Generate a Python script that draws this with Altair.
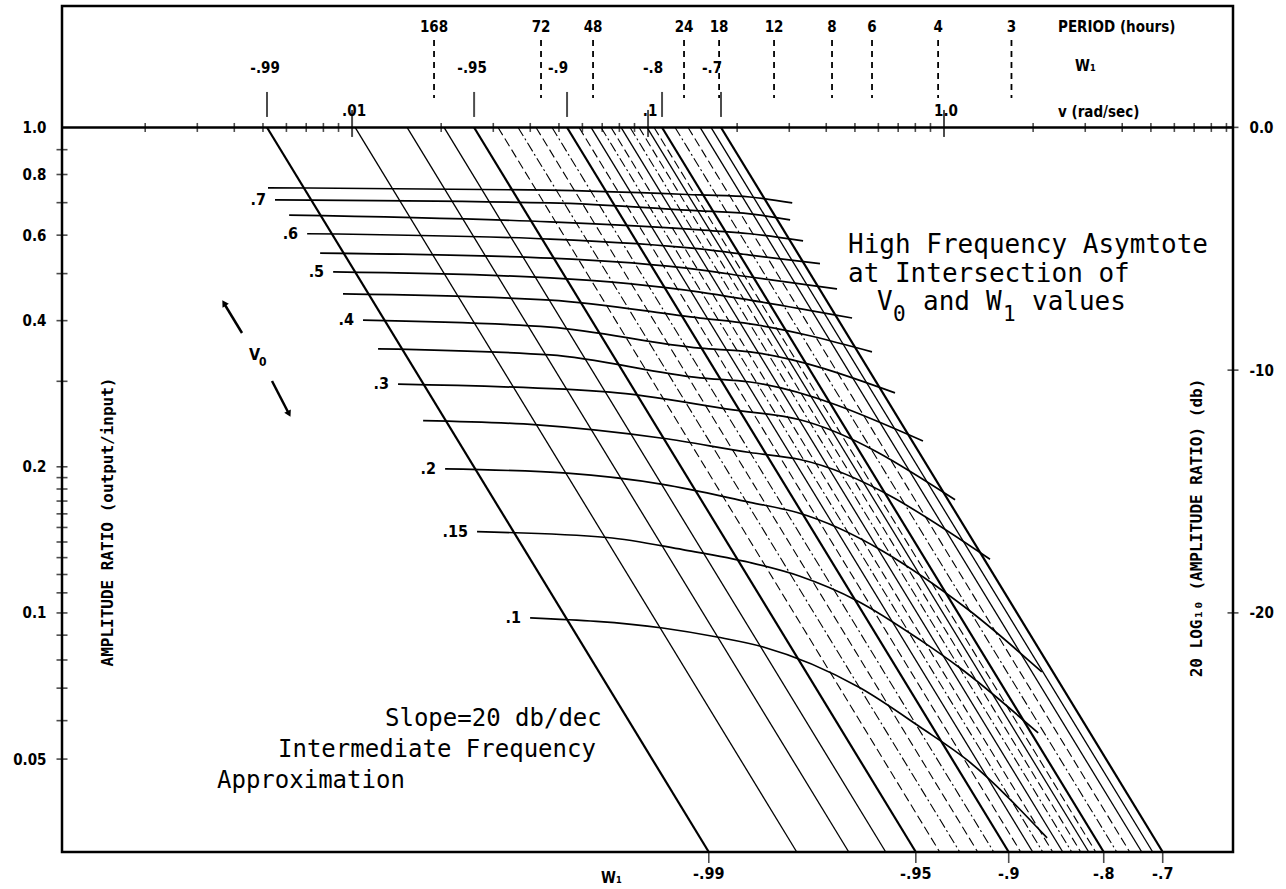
import altair as alt
import pandas as pd

# ---------------- extents of the chart (data units) ----------------
V_MIN, V_MAX = 0.001047, 9.47        # v (rad/sec), log scale
A_MIN, A_MAX = 0.03218, 1.779        # amplitude ratio, log scale
DB_MIN, DB_MAX = -29.85, 5.0         # 20 log10(amplitude ratio)
W, H = 1171, 846
PL, PT = 62, 6

# ---------------- W1 lines (slope 20 db/dec) ----------------
w1_values = [-0.99, -0.98, -0.97, -0.96, -0.95, -0.94, -0.93, -0.92, -0.91, -0.90,
             -0.89, -0.88, -0.87, -0.86, -0.85, -0.84, -0.83, -0.82, -0.81, -0.80,
             -0.78, -0.76, -0.74, -0.72, -0.70]
w1_v_top = [0.00516, 0.01024, 0.01534, 0.02045, 0.02584, 0.03113, 0.03638, 0.04183, 0.04738, 0.05325,
            0.05846, 0.06418, 0.06938, 0.07499, 0.08106, 0.08694, 0.09324, 0.09922, 0.1048, 0.1115,
            0.1234, 0.1365, 0.1499, 0.1632, 0.1764]
w1_v_bottom = [0.1604, 0.318, 0.4766, 0.6354, 0.803, 0.967, 1.130, 1.300, 1.472, 1.654,
               1.816, 1.994, 2.156, 2.330, 2.519, 2.701, 2.897, 3.083, 3.256, 3.464,
               3.834, 4.241, 4.657, 5.071, 5.481]
w1_a_top = 1.0
w1_a_bottom = 0.03218

w1_bold = [-0.99, -0.95, -0.90, -0.80, -0.70]
w1_dashed = [-0.94, -0.92, -0.89, -0.86, -0.83, -0.81, -0.76]
w1_dashdot = [-0.93, -0.91, -0.87, -0.84, -0.78]

# ---------------- V0 curves ----------------
v0_values = [0.75, 0.70, 0.65, 0.60, 0.55, 0.50, 0.45, 0.40, 0.35, 0.30, 0.25, 0.20, 0.15, 0.10]
v0_curve_v = [
    [0.00520, 0.0467, 0.150, 0.221, 0.307],
    [0.00549, 0.0467, 0.150, 0.221, 0.302],
    [0.00613, 0.0467, 0.150, 0.221, 0.334],
    [0.00705, 0.0467, 0.150, 0.221, 0.381],
    [0.00780, 0.0467, 0.150, 0.221, 0.435],
    [0.00863, 0.0467, 0.150, 0.221, 0.489],
    [0.00932, 0.0467, 0.150, 0.221, 0.571],
    [0.01089, 0.0467, 0.150, 0.221, 0.683],
    [0.01224, 0.0467, 0.150, 0.221, 0.849],
    [0.01430, 0.0744, 0.194, 0.326, 1.09],
    [0.01738, 0.0422, 0.112, 0.221, 0.326, 1.43],
    [0.02062, 0.0533, 0.112, 0.221, 0.319, 1.196, 2.14],
    [0.02644, 0.0727, 0.131, 0.221, 0.326, 0.508, 0.830, 1.133, 2.08],
    [0.03995, 0.112, 0.171, 0.245, 0.520, 0.830, 1.196, 2.23],
]
v0_curve_a = [
    [0.751, 0.743, 0.726, 0.719, 0.699],
    [0.709, 0.699, 0.673, 0.664, 0.645],
    [0.660, 0.639, 0.615, 0.604, 0.584],
    [0.604, 0.589, 0.562, 0.546, 0.524],
    [0.551, 0.538, 0.509, 0.492, 0.465],
    [0.504, 0.490, 0.458, 0.441, 0.405],
    [0.454, 0.441, 0.405, 0.394, 0.345],
    [0.401, 0.388, 0.351, 0.345, 0.284],
    [0.350, 0.340, 0.305, 0.299, 0.226],
    [0.296, 0.285, 0.262, 0.250, 0.171],
    [0.249, 0.244, 0.229, 0.214, 0.207, 0.129],
    [0.198, 0.194, 0.184, 0.169, 0.161, 0.102, 0.0756],
    [0.147, 0.143, 0.135, 0.127, 0.119, 0.106, 0.088, 0.077, 0.0566],
    [0.0977, 0.0931, 0.0892, 0.0851, 0.0701, 0.0582, 0.0498, 0.0344],
]
v0_label_values = [0.70, 0.60, 0.50, 0.40, 0.30, 0.20, 0.15, 0.10]
v0_label_texts = [".7", ".6", ".5", ".4", ".3", ".2", ".15", ".1"]

# ---------------- top scale ----------------
v_minor_ticks = [0.002, 0.003, 0.004, 0.005, 0.006, 0.007, 0.008, 0.009,
                 0.02, 0.03, 0.04, 0.05, 0.06, 0.07, 0.08, 0.09,
                 0.2, 0.3, 0.4, 0.5, 0.6, 0.7, 0.8, 0.9,
                 2, 3, 4, 5, 6, 7, 8, 9]
v_major_ticks = [0.01, 0.1, 1.0]
v_major_texts = [".01", ".1", "1.0"]
period_texts = ["168", "72", "48", "24", "18", "12", "8", "6", "4", "3"]
period_v = [0.01892, 0.04349, 0.06519, 0.1323, 0.1738, 0.2665, 0.4184, 0.5711, 0.955, 1.69]
w1_mark_texts = ["-.99", "-.95", "-.9", "-.8", "-.7"]
w1_mark_v_top = [0.00516, 0.02584, 0.05325, 0.1115, 0.1764]
w1_mark_v_bottom = [0.1604, 0.803, 1.654, 3.464, 5.481]

# ---------------- side scales ----------------
amp_label_values = [1.0, 0.8, 0.6, 0.4, 0.2, 0.1, 0.05]
amp_tick_values = [0.9, 0.8, 0.7, 0.6, 0.5, 0.4, 0.3, 0.2, 0.19, 0.18, 0.17, 0.16, 0.15,
                   0.14, 0.13, 0.12, 0.11, 0.1, 0.09, 0.08, 0.07, 0.06, 0.05]
db_values = [0, -10, -20]

# ---------------- styling ----------------
NUMF = "'DejaVu Sans Condensed', 'DejaVu Sans', sans-serif"
MONO = "'DejaVu Sans Mono', monospace"

xs = alt.Scale(type="log", domain=[V_MIN, V_MAX], nice=False)
ys = alt.Scale(type="log", domain=[A_MIN, A_MAX], nice=False)

left_axis = alt.Axis(values=amp_label_values, ticks=False, domain=False, grid=False,
                     labelExpr="datum.value >= 0.1 ? format(datum.value, '.1f') : format(datum.value, '.2f')",
                     labelFont=NUMF, labelFontSize=15, labelFontWeight="bold", labelColor="black",
                     labelPadding=16, tickSize=0, title=None)


def X(f="v"):
    return alt.X(f"{f}:Q", scale=xs, axis=None)


def Y(f="a"):
    return alt.Y(f"{f}:Q", scale=ys, axis=left_axis)


def px(x):
    return alt.value(x - PL)


def py(y):
    return alt.value(y - PT)


def text_at(t, x, y, size=14, font=NUMF, weight="bold", align="left", angle=0):
    return alt.Chart(pd.DataFrame({"t": [t]})).mark_text(
        align=align, baseline="middle", font=font, fontSize=size, fontWeight=weight,
        angle=angle, color="black").encode(x=px(x), y=py(y), text="t:N")


# ---------------- data tables ----------------
w1_rows = []
for w, vt, vb in zip(w1_values, w1_v_top, w1_v_bottom):
    w1_rows.append({"w1": w, "v": vt, "a": w1_a_top, "k": 0})
    w1_rows.append({"w1": w, "v": vb, "a": w1_a_bottom, "k": 1})
w1_df = pd.DataFrame(w1_rows)


def w1_subset(vals):
    return w1_df[w1_df["w1"].isin(vals)]


thin_solid = [w for w in w1_values if w not in w1_bold + w1_dashed + w1_dashdot]

curve_rows = []
for v0, vs, as_ in zip(v0_values, v0_curve_v, v0_curve_a):
    for k, (v, a) in enumerate(zip(vs, as_)):
        curve_rows.append({"v0": v0, "v": v, "a": a, "k": k})
curve_df = pd.DataFrame(curve_rows)

lab_rows = []
for v0, t in zip(v0_label_values, v0_label_texts):
    i = v0_values.index(v0)
    lab_rows.append({"v": v0_curve_v[i][0], "a": v0_curve_a[i][0], "t": t})
v0_lab_df = pd.DataFrame(lab_rows)

minor_df = pd.DataFrame({"v": v_minor_ticks, "a": [1.0] * len(v_minor_ticks)})
major_df = pd.DataFrame({"v": v_major_ticks, "a": [1.0] * len(v_major_ticks), "t": v_major_texts})
period_df = pd.DataFrame({"v": period_v, "t": period_texts})
w1m_df = pd.DataFrame({"vt": w1_mark_v_top, "vb": w1_mark_v_bottom, "t": w1_mark_texts,
                       "a": [1.0] * 5, "ab": [A_MIN] * 5})
amp_df = pd.DataFrame({"a": amp_tick_values})
one_df = pd.DataFrame({"a": [1.0]})


def line_layer(vals, width, dash=None):
    kw = dict(color="black", strokeWidth=width)
    if dash:
        kw["strokeDash"] = dash
    return alt.Chart(w1_subset(vals)).mark_line(**kw).encode(
        x=X(), y=Y(), detail="w1:N", order="k:Q")


def rule(x1, y1, x2, y2, w=2.5):
    return alt.Chart(one_df).mark_rule(color="black", strokeWidth=w).encode(
        x=px(x1), y=py(y1), x2=px(x2), y2=py(y2))


def head(x, y, ang):
    return alt.Chart(one_df).mark_point(shape="triangle-up", filled=True, size=55, angle=ang,
                                        color="black", opacity=1).encode(x=px(x), y=py(y))


def note(t, x, y, size=24):
    return text_at(t, x, y, size=size, font=MONO, weight="normal")


layers = [
    # the 1.0 reference line with its v scale
    alt.Chart(one_df).mark_rule(color="black", strokeWidth=2.5).encode(y=Y()),
    alt.Chart(minor_df).mark_tick(orient="vertical", size=9, thickness=1.6, color="black").encode(x=X(), y=Y()),
    alt.Chart(major_df).mark_tick(orient="vertical", size=27, thickness=2, color="black", yOffset=-4).encode(x=X(), y=Y()),
    alt.Chart(major_df).mark_text(font=NUMF, fontSize=15, fontWeight="bold", color="black", dx=2, baseline="middle").encode(
        x=X(), y=py(111), text="t:N"),
    alt.Chart(w1m_df).mark_tick(orient="vertical", size=25, thickness=2, color="black", yOffset=-23).encode(x=X("vt"), y=Y()),
    alt.Chart(w1m_df[w1m_df["t"].isin(["-.99", "-.95"])]).mark_text(
        font=NUMF, fontSize=15, fontWeight="bold", color="black", dx=-2, baseline="middle").encode(
        x=X("vt"), y=py(68), text="t:N"),
    alt.Chart(w1m_df[w1m_df["t"].isin(["-.9", "-.8", "-.7"])]).mark_text(
        font=NUMF, fontSize=15, fontWeight="bold", color="black", dx=-9, baseline="middle").encode(
        x=X("vt"), y=py(68), text="t:N"),
    alt.Chart(period_df).mark_rule(color="black", strokeWidth=1.8, strokeDash=[6, 5]).encode(
        x=X(), y=py(40), y2=py(98)),
    alt.Chart(period_df).mark_text(font=NUMF, fontSize=15, fontWeight="bold", color="black", baseline="middle").encode(
        x=X(), y=py(27), text="t:N"),
    # left axis cross ticks
    alt.Chart(amp_df).mark_tick(orient="horizontal", size=11, thickness=1.6, color="black").encode(x=alt.value(0), y=Y()),
    # W1 lines
    line_layer(thin_solid, 1.3),
    line_layer(w1_dashed, 1.1, [9, 4]),
    line_layer(w1_dashdot, 1.1, [10, 3, 2, 3]),
    line_layer(w1_bold, 2.2),
    # bottom W1 scale
    alt.Chart(w1m_df).mark_tick(orient="vertical", size=12, thickness=1.6, color="black", yOffset=5).encode(
        x=X("vb"), y=alt.Y("ab:Q", scale=ys, axis=left_axis)),
    alt.Chart(w1m_df).mark_text(font=NUMF, fontSize=16, fontWeight="bold", color="black", baseline="middle").encode(
        x=X("vb"), y=py(874), text="t:N"),
    # V0 curves
    alt.Chart(curve_df).mark_line(color="black", strokeWidth=1.7, interpolate="monotone").encode(
        x=X(), y=Y(), detail="v0:N", order="k:Q"),
    alt.Chart(v0_lab_df).mark_text(font=NUMF, fontSize=16, fontWeight="bold", color="black",
                                   align="right", baseline="middle", dx=-9).encode(x=X(), y=Y(), text="t:N"),
    # header texts
    text_at("PERIOD (hours)", 1058, 27, size=15),
    text_at("W\u2081", 1075, 66, size=15),
    text_at("v (rad/sec)", 1058, 112, size=15),
    text_at("W\u2081", 601, 878, size=15),
    # axis titles drawn inside the frame
    text_at("AMPLITUDE RATIO (output/input)", 108, 522, size=16, font=MONO, align="center", angle=270),
    text_at("20 LOG\u2081\u2080 (AMPLITUDE RATIO) (db)", 1197, 528, size=16, font=MONO, align="center", angle=270),
    # annotations
    note("High Frequency Asymtote", 848, 245, 26),
    note("at Intersection of", 848, 274, 26),
    note("V", 877, 302, 26),
    note("0", 893, 315, 21),
    note("and", 923, 302, 26),
    note("W", 986, 302, 26),
    note("1", 1003, 315, 21),
    note("values", 1032, 302, 26),
    note("Slope=20 db/dec", 385, 719),
    note("Intermediate Frequency", 278, 750),
    note("Approximation", 217, 781),
    # V0 direction arrows
    text_at("V", 249, 355, size=16),
    text_at("0", 259, 362, size=12),
    rule(242, 333, 225, 305),
    rule(272, 381, 288, 412),
    head(224, 303, 328),
    head(289, 414, 153),
]

main = alt.layer(*layers)

db_df = pd.DataFrame({"db": db_values})
right = alt.Chart(db_df).mark_tick(orient="horizontal", size=11, thickness=1.6, color="black").encode(
    x=alt.value(W),
    y=alt.Y("db:Q", scale=alt.Scale(domain=[DB_MIN, DB_MAX], nice=False, zero=False),
            axis=alt.Axis(orient="right", values=db_values, ticks=False, domain=False, grid=False,
                          labelExpr="datum.value == 0 ? '0.0' : '-' + abs(datum.value)",
                          labelFont=NUMF, labelFontSize=15, labelFontWeight="bold", labelColor="black",
                          labelPadding=16, tickSize=0, title=None)),
)

chart = alt.layer(main, right).resolve_scale(y="independent").properties(
    width=W, height=H,
    autosize=alt.AutoSizeParams(type="none"),
    padding={"left": PL, "top": PT, "right": 1286 - PL - W, "bottom": 889 - PT - H},
    background="white",
).configure_view(stroke="black", strokeWidth=2.5)

chart.save("out.html", embed_options={"renderer": "svg", "actions": False})
